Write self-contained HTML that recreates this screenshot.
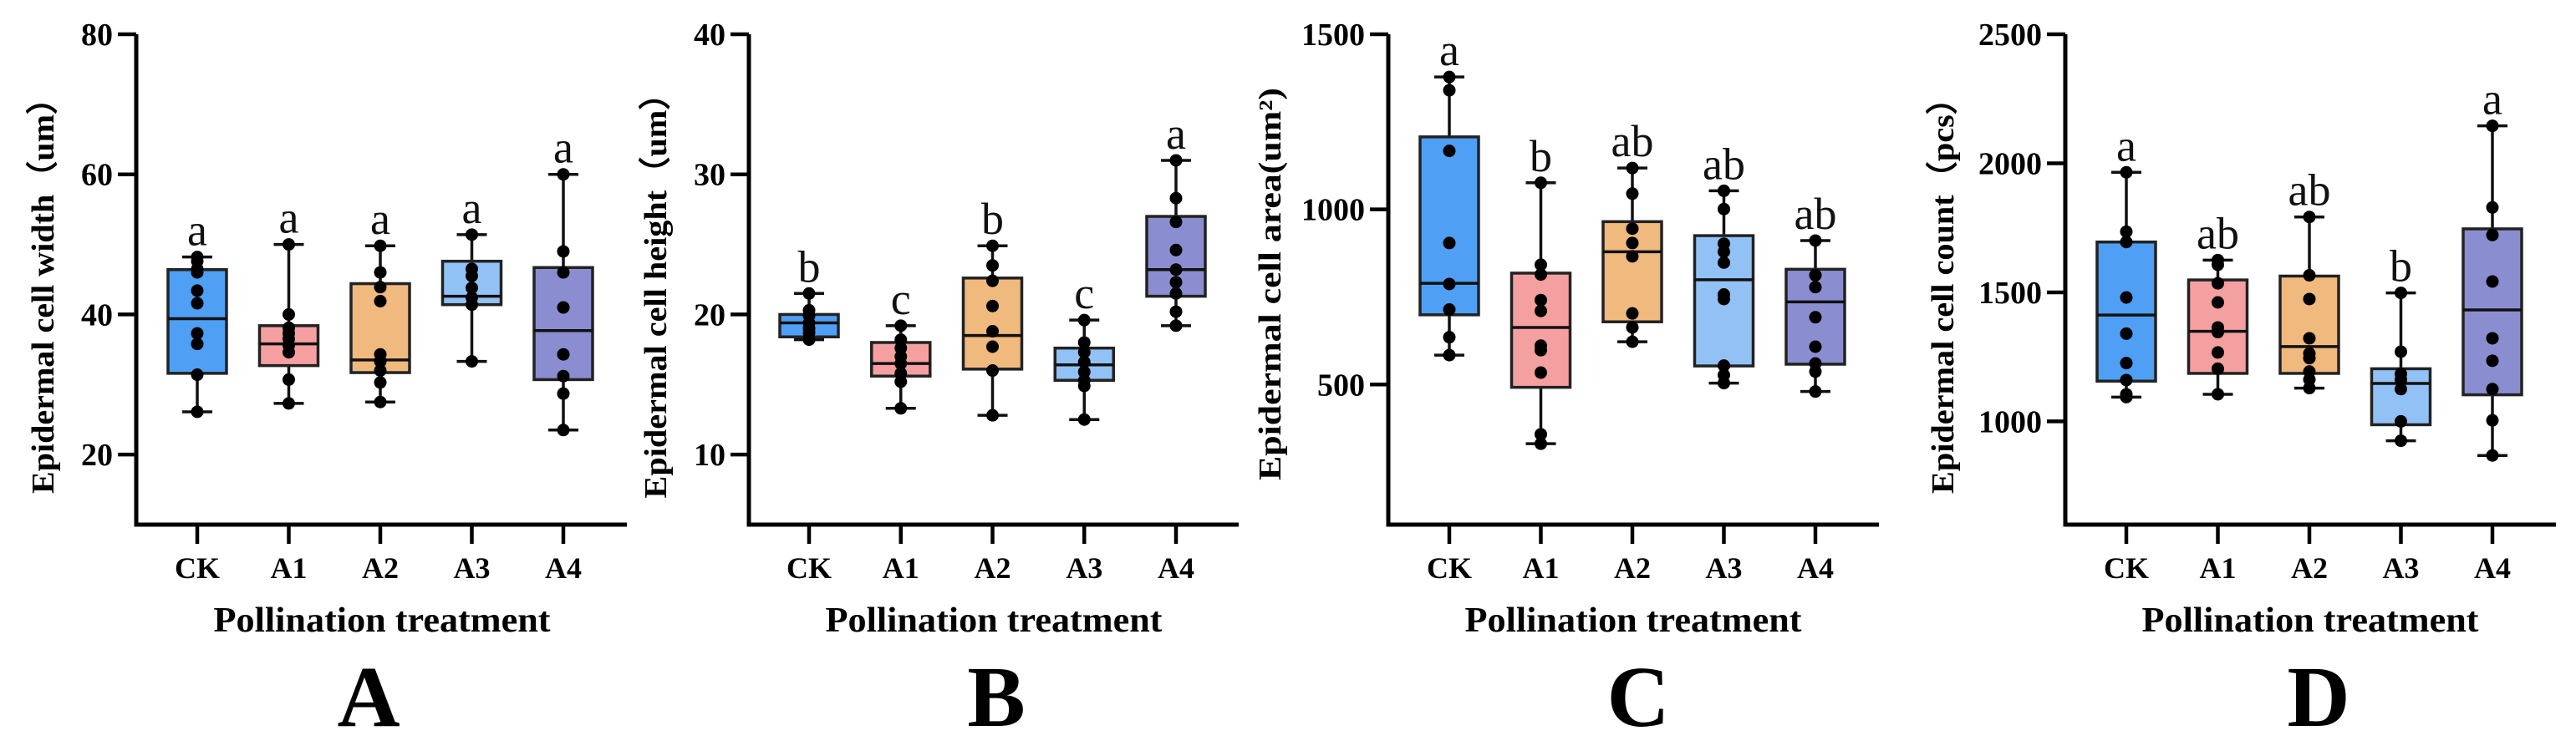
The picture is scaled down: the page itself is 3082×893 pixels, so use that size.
<!DOCTYPE html>
<html><head><meta charset="utf-8"><style>
html,body{margin:0;padding:0;background:#fff;}
svg{display:block;font-family:"Liberation Serif",serif;}
</style></head><body>
<svg id="fig" width="3082" height="893" viewBox="0 0 3082 893"></svg>
<script>
const categories = ["CK","A1","A2","A3","A4"];
const fills = ["#4f9ff5","#f5a0a0","#f0b97e","#92c2f5","#8a8ed0"];

// Panel A: width
const aTicks = [20,40,60,80];
const aMin = [26.1,27.3,27.5,33.3,23.5];
const aQ1 = [31.6,32.7,31.7,41.4,30.7];
const aMed = [39.4,35.8,33.5,42.6,37.7];
const aQ3 = [46.4,38.4,44.4,47.6,46.7];
const aMax = [48.2,50.0,49.8,51.4,60.0];
const aLetters = ["a","a","a","a","a"];
const aPoints = [
 [48.2,47.6,46.5,46.0,43.4,41.6,37.3,35.8,31.4,26.1],
 [50,40,38.1,37.3,36.5,35.6,34.6,30.7,27.3],
 [49.8,46.0,43.9,41.9,34.3,33.3,32.0,30.3,27.5],
 [51.4,46.5,45.5,43.8,42.4,41.4,33.3],
 [60,49,46,41,34.3,31.2,28.7,23.5]];

// Panel B: height
const bTicks = [10,20,30,40];
const bMin = [18.2,13.3,12.8,12.5,19.2];
const bQ1 = [18.4,15.6,16.1,15.3,21.3];
const bMed = [19.4,16.5,18.5,16.4,23.2];
const bQ3 = [20.0,18.0,22.6,17.6,27.0];
const bMax = [21.5,19.2,24.9,19.6,31.0];
const bLetters = ["b","c","b","c","a"];
const bPoints = [
 [21.5,20.3,19.9,19.4,19.0,18.7,18.2],
 [19.2,18.2,17.6,17.0,16.5,15.8,15.2,13.3],
 [24.9,23.5,22.4,20.6,18.8,17.7,16.0,12.8],
 [19.6,18.0,17.3,16.6,15.9,15.3,14.9,12.5],
 [31.0,28.3,26.6,24.6,23.2,22.3,21.5,20.2,19.2]];

// Panel C: area
const cTicks = [500,1000,1500];
const cMin = [584,331,622,504,480];
const cQ1 = [699,492,679,553,558];
const cMed = [789,663,879,799,736];
const cQ3 = [1207,818,965,925,829];
const cMax = [1378,1076,1118,1053,911];
const cLetters = ["a","b","ab","ab","ab"];
const cPoints = [
 [1378,1340,1167,904,787,714,635,584],
 [1076,842,814,741,710,611,598,534,358,331],
 [1118,1045,945,904,866,703,663,622],
 [1053,1001,902,879,848,757,744,554,527,504],
 [911,812,778,692,608,560,537,480]];

// Panel D: count
const dTicks = [1000,1500,2000,2500];
const dMin = [1094,1105,1129,925,868];
const dQ1 = [1156,1186,1186,987,1103];
const dMed = [1412,1349,1290,1147,1432];
const dQ3 = [1695,1548,1563,1204,1746];
const dMax = [1965,1625,1792,1498,2145];
const dLetters = ["a","ab","ab","b","a"];
const dPoints = [
 [1965,1735,1695,1480,1340,1226,1160,1105,1094],
 [1625,1607,1535,1461,1364,1346,1267,1204,1105],
 [1792,1566,1474,1322,1263,1245,1193,1162,1129],
 [1498,1270,1184,1162,1125,1000,925],
 [2145,1829,1722,1542,1322,1235,1125,1004,868]];

const NS="http://www.w3.org/2000/svg";
const svg=document.getElementById('fig');
function mk(tag,attrs,parent,text){const e=document.createElementNS(NS,tag);for(const k in attrs)e.setAttribute(k,attrs[k]);if(text!==undefined)e.textContent=text;(parent||svg).appendChild(e);return e;}

function panel(cfg){
  const g=mk('g',{});
  
  
  const top=41,bot=628;
  const y=v=>bot-(v-cfg.yMin)/(cfg.yMax-cfg.yMin)*(bot-top);
  const x=i=>cfg.x0+i*cfg.step;
  categories.forEach((c,i)=>{
    const bg=mk('g',{},g);
    
    
    const cx=x(i);
    mk('line',{x1:cx,x2:cx,y1:y(cfg.max[i]),y2:y(cfg.min[i]),stroke:'#111','stroke-width':3.5},bg);
    mk('line',{x1:cx-18,x2:cx+18,y1:y(cfg.max[i]),y2:y(cfg.max[i]),stroke:'#111','stroke-width':3.5},bg);
    mk('line',{x1:cx-18,x2:cx+18,y1:y(cfg.min[i]),y2:y(cfg.min[i]),stroke:'#111','stroke-width':3.5},bg);
    mk('rect',{x:cx-35,y:y(cfg.q3[i]),width:70,height:y(cfg.q1[i])-y(cfg.q3[i]),fill:fills[i],stroke:'#222','stroke-width':3.5},bg);
    mk('line',{x1:cx-35,x2:cx+35,y1:y(cfg.med[i]),y2:y(cfg.med[i]),stroke:'#111','stroke-width':3.5},bg);
    cfg.pts[i].forEach(v=>{
      const d=mk('circle',{cx:cx,cy:y(v),r:7.5,fill:'#000'},bg);
      
      
    });
    const l=mk('text',{x:cx,y:y(cfg.max[i])-14,'text-anchor':'middle','font-size':54,fill:'#111'},bg,cfg.letters[i]);
    
    
    mk('line',{x1:cx,x2:cx,y1:bot,y2:bot+23,stroke:'#000','stroke-width':4.5},bg);
    const t=mk('text',{x:cx,y:692,'text-anchor':'middle','font-size':36,'font-weight':'bold'},bg,c);
    
    
  });
  const axX=cfg.x0-cfg.axOff;
  const ax=mk('path',{d:`M${axX},${top} L${axX},${bot} L${cfg.axEnd},${bot}`,fill:'none',stroke:'#000','stroke-width':5},g);
  
  
  cfg.ticks.forEach(v=>{
    mk('line',{x1:axX-22,x2:axX,y1:y(v),y2:y(v),stroke:'#000','stroke-width':4.5},g);
    const t=mk('text',{x:axX-28,y:y(v)+13,'text-anchor':'end','font-size':38,'font-weight':'bold'},g,v);
    
    
  });
  const yt=mk('text',{x:0,y:0,transform:`translate(${cfg.ytx},${cfg.yty}) rotate(-90)`,'text-anchor':'middle','font-size':38,'font-weight':'bold',textLength:cfg.ylen,lengthAdjust:'spacingAndGlyphs'},g,cfg.ytitle);
  
  
  const xt=mk('text',{x:cfg.xtx,y:756,'text-anchor':'middle','font-size':42,'font-weight':'bold',textLength:403,lengthAdjust:'spacingAndGlyphs'},g,'Pollination treatment');
  
  
  const pl=mk('text',{x:cfg.plx,y:869,'text-anchor':'middle','font-size':104,'font-weight':'bold'},g,cfg.letter);
  
  
}

panel({name:'panel-a-width',x0:236,step:109.5,axOff:73,axEnd:750,yMin:10,yMax:80,ticks:aTicks,min:aMin,q1:aQ1,med:aMed,q3:aQ3,max:aMax,pts:aPoints,letters:aLetters,ytitle:'Epidermal cell width\uFF08um\uFF09',ylen:494,ytx:64,yty:344,xtx:457,plx:441,letter:'A'});
panel({name:'panel-b-height',x0:968,step:109.75,axOff:72,axEnd:1482,yMin:5,yMax:40,ticks:bTicks,min:bMin,q1:bQ1,med:bMed,q3:bQ3,max:bMax,pts:bPoints,letters:bLetters,ytitle:'Epidermal cell height\uFF08um\uFF09',ylen:505,ytx:797,yty:344,xtx:1189,plx:1192,letter:'B'});
panel({name:'panel-c-area',x0:1734,step:109.5,axOff:73,axEnd:2248,yMin:100,yMax:1500,ticks:cTicks,min:cMin,q1:cQ1,med:cMed,q3:cQ3,max:cMax,pts:cPoints,letters:cLetters,ytitle:'Epidermal cell area(um\u00B2)',ylen:470,ytx:1532,yty:340,xtx:1954,plx:1960,letter:'C'});
panel({name:'panel-d-count',x0:2544,step:109.5,axOff:73,axEnd:3058,yMin:600,yMax:2500,ticks:dTicks,min:dMin,q1:dQ1,med:dMed,q3:dQ3,max:dMax,pts:dPoints,letters:dLetters,ytitle:'Epidermal cell count\uFF08pcs\uFF09',ylen:494,ytx:2337,yty:344,xtx:2764,plx:2774,letter:'D'});
</script>
</body></html>
